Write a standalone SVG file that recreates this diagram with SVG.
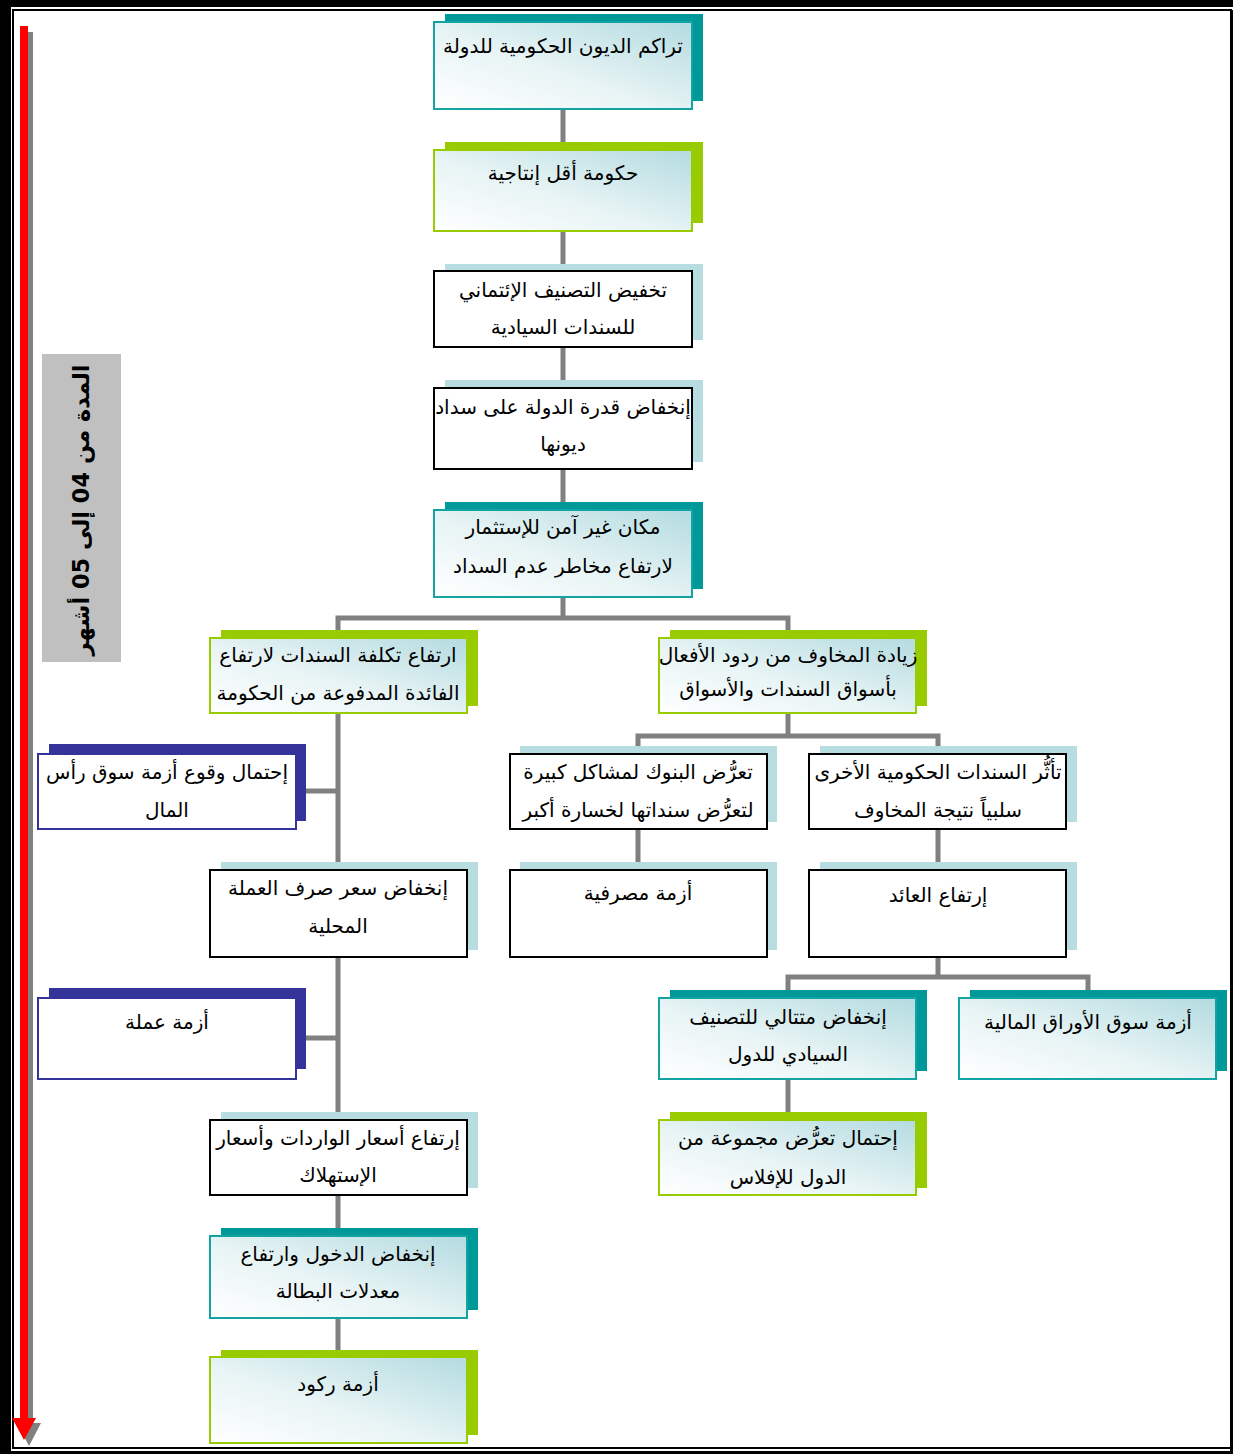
<svg xmlns="http://www.w3.org/2000/svg" width="1235" height="1454" viewBox="0 0 1235 1454">
<style>
.sh-teal{fill:#009999}
.sh-lime{fill:#99cc00}
.sh-blue{fill:#b7dde1}
.sh-navy{fill:#333399}
.bx{stroke-width:2}
.bx-teal{fill:url(#grad);stroke:#13a3a3}
.bx-lime{fill:url(#grad);stroke:#99cc00}
.bx-black{fill:#fff;stroke:#000}
.bx-navy{fill:#fff;stroke:#333399}
.t{font-family:"DejaVu Sans",sans-serif;font-size:20px;text-anchor:middle;direction:rtl;fill:#000}
.lbl{font-family:"DejaVu Sans",sans-serif;font-size:22.5px;font-weight:bold;text-anchor:middle;direction:rtl;fill:#000}
.conn{fill:none;stroke:#808080;stroke-width:5;stroke-linejoin:miter}
</style>
<defs>
<linearGradient id="grad" x1="1" y1="0" x2="0" y2="1">
<stop offset="0" stop-color="#b3dbe0"/>
<stop offset="0.55" stop-color="#e8f4f5"/>
<stop offset="1" stop-color="#ffffff"/>
</linearGradient>
</defs>
<rect width="1235" height="1454" fill="#fff"/>
<g id="frame">
<rect x="0" y="0" width="1233" height="7" fill="#000"/>
<rect x="0" y="0" width="11" height="1454" fill="#000"/>
<rect x="0" y="1451" width="1233" height="3" fill="#000"/>
<rect x="13" y="10" width="1218" height="1438" fill="none" stroke="#000" stroke-width="2"/>
<rect x="1230" y="10" width="3" height="1441" fill="#000"/>
</g>
<g id="time-arrow">
<path d="M25 32 H33 V1423 H41 L29 1446 L17 1423 H25 Z" fill="#808080"/>
<path d="M20 26 H28 V1418 H36 L24 1440 L12 1418 H20 Z" fill="#ff0000"/>
<rect x="42" y="354" width="79" height="308" fill="#c0c0c0"/>
<text class="lbl" transform="translate(89,510) rotate(-90)" x="0" y="0">المدة من 04 إلى 05 أشهر</text>
</g>
<g id="connectors">
<path class="conn" d="M563 109 V618"/>
<path class="conn" d="M338 638 V618 H788 V638"/>
<path class="conn" d="M338 713 V1357"/>
<path class="conn" d="M296 791 H338"/>
<path class="conn" d="M296 1038 H338"/>
<path class="conn" d="M788 713 V736"/>
<path class="conn" d="M638 754 V736 H938 V754"/>
<path class="conn" d="M638 829 V870"/>
<path class="conn" d="M938 829 V870"/>
<path class="conn" d="M938 957 V977"/>
<path class="conn" d="M788 998 V977 H1088 V998"/>
<path class="conn" d="M788 1079 V1120"/>
</g>
<g id="n1">
<rect class="sh-teal" x="445" y="14" width="258" height="87"/>
<rect class="bx bx-teal" x="434" y="22" width="258" height="87"/>
<text class="t" x="563" y="53">تراكم الديون الحكومية للدولة</text>
</g>
<g id="n2">
<rect class="sh-lime" x="445" y="142" width="258" height="81"/>
<rect class="bx bx-lime" x="434" y="150" width="258" height="81"/>
<text class="t" x="563" y="180">حكومة أقل إنتاجية</text>
</g>
<g id="n3">
<rect class="sh-blue" x="445" y="264" width="258" height="76"/>
<rect class="bx bx-black" x="434" y="271" width="258" height="76"/>
<text class="t" x="563" y="297">تخفيض التصنيف الإئتماني</text>
<text class="t" x="563" y="334">للسندات السيادية</text>
</g>
<g id="n4">
<rect class="sh-blue" x="445" y="380" width="258" height="82"/>
<rect class="bx bx-black" x="434" y="388" width="258" height="81"/>
<text class="t" x="563" y="414">إنخفاض قدرة الدولة على سداد</text>
<text class="t" x="563" y="451">ديونها</text>
</g>
<g id="n5">
<rect class="sh-teal" x="445" y="502" width="258" height="87"/>
<rect class="bx bx-teal" x="434" y="510" width="258" height="87"/>
<text class="t" x="563" y="534">مكان غير آمن للإستثمار</text>
<text class="t" x="563" y="573">لارتفاع مخاطر عدم السداد</text>
</g>
<g id="n6">
<rect class="sh-lime" x="221" y="630" width="257" height="76"/>
<rect class="bx bx-lime" x="210" y="638" width="257" height="75"/>
<text class="t" x="338" y="662">ارتفاع تكلفة السندات لارتفاع</text>
<text class="t" x="338" y="700">الفائدة المدفوعة من الحكومة</text>
</g>
<g id="n7">
<rect class="sh-lime" x="670" y="630" width="257" height="76"/>
<rect class="bx bx-lime" x="659" y="638" width="257" height="75"/>
<text class="t" x="788" y="662">زيادة المخاوف من ردود الأفعال</text>
<text class="t" x="788" y="696">بأسواق السندات والأسواق</text>
</g>
<g id="n8">
<rect class="sh-blue" x="520" y="746" width="257" height="76"/>
<rect class="bx bx-black" x="510" y="754" width="257" height="75"/>
<text class="t" x="638" y="779">تعرُّض البنوك لمشاكل كبيرة</text>
<text class="t" x="638" y="817">لتعرُّض سنداتها لخسارة أكبر</text>
</g>
<g id="n9">
<rect class="sh-blue" x="820" y="746" width="257" height="76"/>
<rect class="bx bx-black" x="809" y="754" width="257" height="75"/>
<text class="t" x="938" y="779">تأثُّر السندات الحكومية الأخرى</text>
<text class="t" x="938" y="817">سلبياً نتيجة المخاوف</text>
</g>
<g id="n10">
<rect class="sh-blue" x="520" y="862" width="257" height="88"/>
<rect class="bx bx-black" x="510" y="870" width="257" height="87"/>
<text class="t" x="638" y="900">أزمة مصرفية</text>
</g>
<g id="n11">
<rect class="sh-blue" x="820" y="862" width="257" height="88"/>
<rect class="bx bx-black" x="809" y="870" width="257" height="87"/>
<text class="t" x="938" y="902">إرتفاع العائد</text>
</g>
<g id="n12">
<rect class="sh-teal" x="670" y="990" width="257" height="81"/>
<rect class="bx bx-teal" x="659" y="998" width="257" height="81"/>
<text class="t" x="788" y="1024">إنخفاض متتالي للتصنيف</text>
<text class="t" x="788" y="1061">السيادي للدول</text>
</g>
<g id="n13">
<rect class="sh-teal" x="970" y="990" width="257" height="81"/>
<rect class="bx bx-teal" x="959" y="998" width="257" height="81"/>
<text class="t" x="1088" y="1029">أزمة سوق الأوراق المالية</text>
</g>
<g id="n14">
<rect class="sh-lime" x="670" y="1112" width="257" height="76"/>
<rect class="bx bx-lime" x="659" y="1120" width="257" height="75"/>
<text class="t" x="788" y="1145">إحتمال تعرُّض مجموعة من</text>
<text class="t" x="788" y="1184">الدول للإفلاس</text>
</g>
<g id="n15">
<rect class="sh-blue" x="221" y="862" width="257" height="88"/>
<rect class="bx bx-black" x="210" y="870" width="257" height="87"/>
<text class="t" x="338" y="895">إنخفاض سعر صرف العملة</text>
<text class="t" x="338" y="933">المحلية</text>
</g>
<g id="n16">
<rect class="sh-navy" x="49" y="744" width="257" height="77"/>
<rect class="bx bx-navy" x="38" y="754" width="258" height="75"/>
<text class="t" x="167" y="779">إحتمال وقوع أزمة سوق رأس</text>
<text class="t" x="167" y="817">المال</text>
</g>
<g id="n17">
<rect class="sh-navy" x="49" y="988" width="257" height="81"/>
<rect class="bx bx-navy" x="38" y="998" width="258" height="81"/>
<text class="t" x="167" y="1029">أزمة عملة</text>
</g>
<g id="n18">
<rect class="sh-blue" x="221" y="1112" width="257" height="76"/>
<rect class="bx bx-black" x="210" y="1120" width="257" height="75"/>
<text class="t" x="338" y="1145">إرتفاع أسعار الواردات وأسعار</text>
<text class="t" x="338" y="1182">الإستهلاك</text>
</g>
<g id="n19">
<rect class="sh-teal" x="221" y="1228" width="257" height="82"/>
<rect class="bx bx-teal" x="210" y="1236" width="257" height="82"/>
<text class="t" x="338" y="1261">إنخفاض الدخول وارتفاع</text>
<text class="t" x="338" y="1298">معدلات البطالة</text>
</g>
<g id="n20">
<rect class="sh-lime" x="221" y="1350" width="257" height="85"/>
<rect class="bx bx-lime" x="210" y="1357" width="257" height="86"/>
<text class="t" x="338" y="1391">أزمة ركود</text>
</g>
</svg>
